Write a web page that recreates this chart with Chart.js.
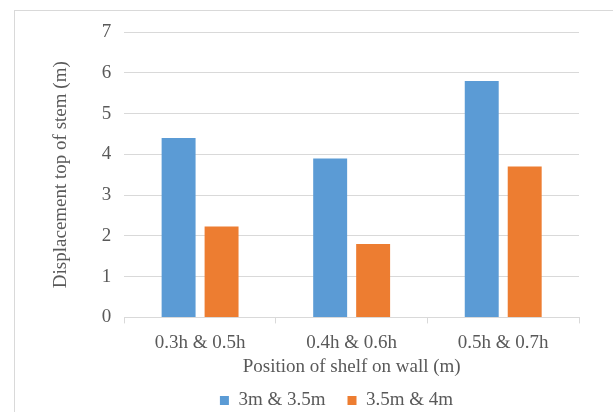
<!DOCTYPE html>
<html>
<head>
<meta charset="utf-8">
<script src="https://cdn.jsdelivr.net/npm/chart.js@4.4.1/dist/chart.umd.min.js"></script>
<style>
  html, body { margin: 0; padding: 0; background: #fff; }
  #frame { position: absolute; left: 14px; top: 10px; width: 620px; height: 420px;
           border-left: 1px solid #d9d9d9; border-top: 1px solid #d9d9d9; }
  #wrap { position: absolute; left: 0; top: 0; width: 613px; height: 412px; }
</style>
</head>
<body>
<div id="frame"></div>
<div id="wrap"><canvas id="chart-bars"></canvas></div>
<script>
var categories = ['0.3h & 0.5h', '0.4h & 0.6h', '0.5h & 0.7h'];
var series_a = [4.4, 3.9, 5.8];     // 3m & 3.5m
var series_b = [2.23, 1.8, 3.7];    // 3.5m & 4m
var y_ticks = [0, 1, 2, 3, 4, 5, 6, 7];

// legend in the original sits a bit right of the canvas centre
var legendShift = {
    id: 'legendShift',
    afterLayout: function (chart) {
        chart.legend.left += 22;
        chart.legend.right += 22;
    }
};

var ctx = document.getElementById("chart-bars").getContext("2d");
new Chart(ctx, {
    type: 'bar',
    data: {
        labels: categories,
        datasets: [{
            label: "3m & 3.5m",
            backgroundColor: "#5b9bd5",
            borderWidth: 0,
            data: series_a,
            barPercentage: 0.79,
            categoryPercentage: 0.567
        }, {
            label: "3.5m & 4m",
            backgroundColor: "#ed7d31",
            borderWidth: 0,
            data: series_b,
            barPercentage: 0.79,
            categoryPercentage: 0.567
        }]
    },
    plugins: [legendShift],
    options: {
        responsive: true,
        maintainAspectRatio: false,
        animation: false,
        layout: {
            padding: { left: 50, right: 34, top: 32, bottom: -8 }
        },
        plugins: {
            legend: {
                position: 'bottom',
                labels: {
                    boxWidth: 9,
                    boxHeight: 9,
                    padding: 22,
                    color: '#595959',
                    font: { size: 19, family: "Liberation Serif" }
                }
            },
            tooltip: { enabled: false }
        },
        scales: {
            y: {
                min: 0,
                max: 7,
                afterBuildTicks: function (axis) {
                    axis.ticks = y_ticks.map(function (v) { return { value: v }; });
                },
                border: { display: false },
                grid: {
                    color: '#d9d9d9',
                    drawTicks: false
                },
                ticks: {
                    padding: 13,
                    color: '#595959',
                    font: { size: 19, family: "Liberation Serif" }
                },
                title: {
                    display: true,
                    text: 'Displacement top of stem (m)',
                    color: '#595959',
                    padding: { top: 0, bottom: 16 },
                    font: { size: 19, family: "Liberation Serif" }
                }
            },
            x: {
                border: { display: true, color: '#d9d9d9' },
                grid: {
                    offset: true,
                    drawOnChartArea: false,
                    drawTicks: true,
                    tickLength: 6,
                    color: '#d9d9d9'
                },
                ticks: {
                    padding: 8,
                    color: '#595959',
                    font: { size: 19, family: "Liberation Serif" }
                },
                title: {
                    display: true,
                    text: 'Position of shelf on wall (m)',
                    color: '#595959',
                    padding: { top: -7, bottom: -9 },
                    font: { size: 19, family: "Liberation Serif" }
                }
            }
        }
    }
});
</script>
</body>
</html>
